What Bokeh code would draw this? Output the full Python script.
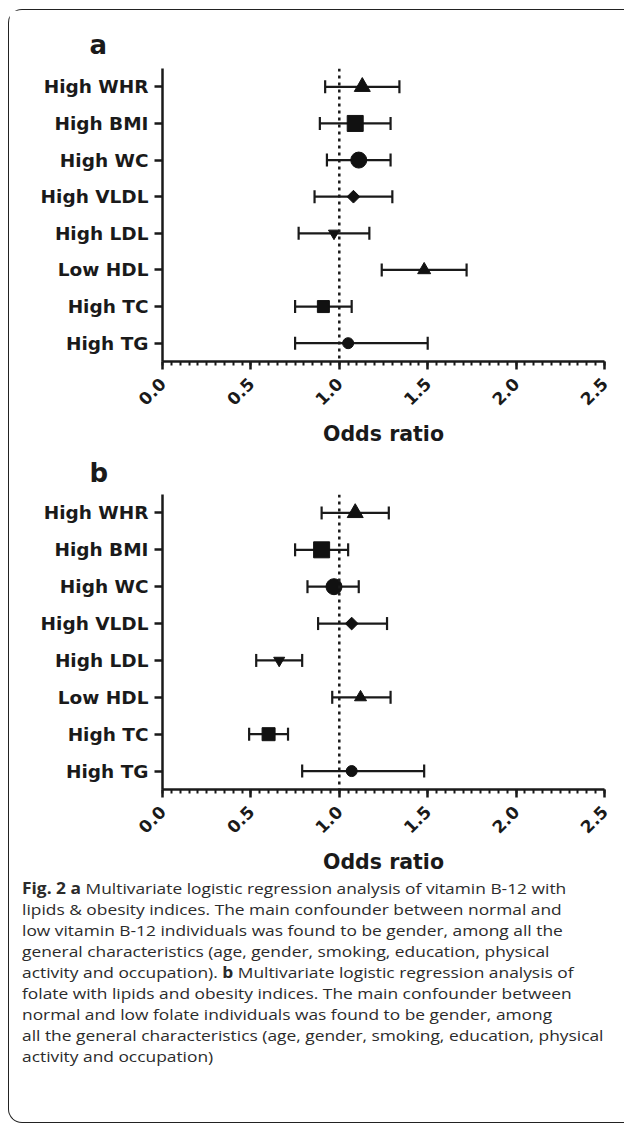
import math
from bokeh.plotting import figure
from bokeh.models import FactorRange, Range1d, FixedTicker, Span, ColumnDataSource, Div
from bokeh.layouts import column
from bokeh.embed import file_html
from bokeh.resources import INLINE

# ---------------- data ----------------
categories = ["High WHR", "High BMI", "High WC", "High VLDL",
              "High LDL", "Low HDL", "High TC", "High TG"]

a_or = [1.13, 1.09, 1.11, 1.08, 0.97, 1.48, 0.91, 1.05]
a_lo = [0.92, 0.89, 0.93, 0.86, 0.77, 1.24, 0.75, 0.75]
a_hi = [1.34, 1.29, 1.29, 1.30, 1.17, 1.72, 1.07, 1.50]

b_or = [1.09, 0.90, 0.97, 1.07, 0.66, 1.12, 0.60, 1.07]
b_lo = [0.90, 0.75, 0.82, 0.88, 0.53, 0.96, 0.49, 0.79]
b_hi = [1.28, 1.05, 1.11, 1.27, 0.79, 1.29, 0.71, 1.48]

reference_or = 1.0
x_ticks = [0.0, 0.5, 1.0, 1.5, 2.0, 2.5]
x_tick_labels = ["0.0", "0.5", "1.0", "1.5", "2.0", "2.5"]
x_label = "Odds ratio"

caption_lines = [
    "<b>Fig. 2 a</b> Multivariate logistic regression analysis of vitamin B-12 with",
    "lipids &amp; obesity indices. The main confounder between normal and",
    "low vitamin B-12 individuals was found to be gender, among all the",
    "general characteristics (age, gender, smoking, education, physical",
    "activity and occupation). <b>b</b> Multivariate logistic regression analysis of",
    "folate with lipids and obesity indices. The main confounder between",
    "normal and low folate individuals was found to be gender, among",
    "all the general characteristics (age, gender, smoking, education, physical",
    "activity and occupation)",
]

# ---------------- styles ----------------
markers = ["triangle", "square", "circle", "square", "inverted_triangle", "triangle", "square", "circle"]
angles = [0, 0, 0, math.pi / 4, 0, 0, 0, 0]
a_sizes = [16, 16, 16, 9, 11, 13, 12, 11]
b_sizes = [16, 16, 16, 9, 11, 12, 13, 11]

BOLD_FONT = "DejaVu Sans"
INK = "#1a1a1a"
W = 615


def make_panel(or_, lo, hi, sizes, letter, height, top, bottom, title_standoff):
    p = figure(width=W, height=height,
               x_range=Range1d(0, 2.5),
               y_range=FactorRange(factors=list(reversed(categories))),
               output_backend="svg", toolbar_location=None,
               min_border_left=153, min_border_right=20,
               min_border_top=top, min_border_bottom=bottom)
    p.outline_line_color = None
    p.xgrid.visible = False
    p.ygrid.visible = False
    p.background_fill_color = "white"
    p.border_fill_color = "white"

    src = ColumnDataSource(dict(cat=categories, orv=or_, lo=lo, hi=hi,
                                marker=markers, angle=angles, size=sizes))

    p.add_layout(Span(location=reference_or, dimension="height",
                      line_color=INK, line_width=2.5, line_dash="3 4"))

    p.segment(x0="lo", x1="hi", y0="cat", y1="cat", source=src,
              line_color=INK, line_width=2.2)
    p.scatter(x="lo", y="cat", source=src, marker="dash", angle=math.pi / 2,
              size=13, line_color=INK, line_width=2.2)
    p.scatter(x="hi", y="cat", source=src, marker="dash", angle=math.pi / 2,
              size=13, line_color=INK, line_width=2.2)
    p.scatter(x="orv", y="cat", source=src, marker="marker", angle="angle",
              size="size", fill_color="#111111", line_color="#111111", line_width=1)

    # axes
    for ax in (p.xaxis[0], p.yaxis[0]):
        ax.axis_line_width = 2.5
        ax.axis_line_color = INK
        ax.major_tick_line_width = 2.5
        ax.major_tick_line_color = INK
        ax.major_tick_in = 0
        ax.major_tick_out = 8
        ax.major_label_text_font = BOLD_FONT
        ax.major_label_text_font_style = "bold"
        ax.major_label_text_color = INK

    p.yaxis.major_label_text_font_size = "18.5px"
    p.yaxis.major_label_standoff = 6

    p.xaxis.ticker = FixedTicker(ticks=x_ticks,
                                 minor_ticks=[round(i * 0.05, 2) for i in range(51)])
    p.xaxis.major_label_overrides = {t: l for t, l in zip(x_ticks, x_tick_labels)}
    p.xaxis.minor_tick_in = 0
    p.xaxis.minor_tick_out = 4
    p.xaxis.minor_tick_line_width = 2
    p.xaxis.minor_tick_line_color = INK
    p.xaxis.major_label_orientation = math.pi / 4
    p.xaxis.major_label_text_font_size = "17px"
    p.xaxis.major_label_standoff = 11
    p.xaxis.axis_label = x_label
    p.xaxis.axis_label_text_font = BOLD_FONT
    p.xaxis.axis_label_text_font_style = "bold"
    p.xaxis.axis_label_text_font_size = "20.5px"
    p.xaxis.axis_label_text_color = INK
    p.xaxis.axis_label_standoff = 8

    p.title.text = letter
    p.title.text_font = BOLD_FONT
    p.title.text_font_style = "bold"
    p.title.text_font_size = "26px"
    p.title.text_color = INK
    p.title.align = "left"
    p.title.offset = -73
    p.title.standoff = title_standoff
    return p


pa = make_panel(a_or, a_lo, a_hi, a_sizes, "a", 438, 58, 86, 17)
pb = make_panel(b_or, b_lo, b_hi, b_sizes, "b", 430, 46, 89, 13)

caption_html = ('<div style="display:inline-block; transform:scaleX(1.135); '
                'transform-origin:0 0; white-space:nowrap;">'
                + "<br>".join(caption_lines) + "</div>")
cap = Div(text=caption_html, width=W, height=244, margin=0,
          styles={"font-family": "'Open Sans', sans-serif", "font-size": "15.3px",
                  "line-height": "21px", "color": "#2b2b2b",
                  "padding-left": "13px"})

layout = column(pa, pb, cap, spacing=0, margin=(9, 0, 0, 8),
                styles={"border-left": "1px solid #222", "border-top": "1px solid #222",
                        "border-bottom": "1px solid #222",
                        "border-top-left-radius": "14px",
                        "border-bottom-left-radius": "14px",
                        "background-color": "white"})

open("out.html", "w").write(file_html(layout, INLINE))
